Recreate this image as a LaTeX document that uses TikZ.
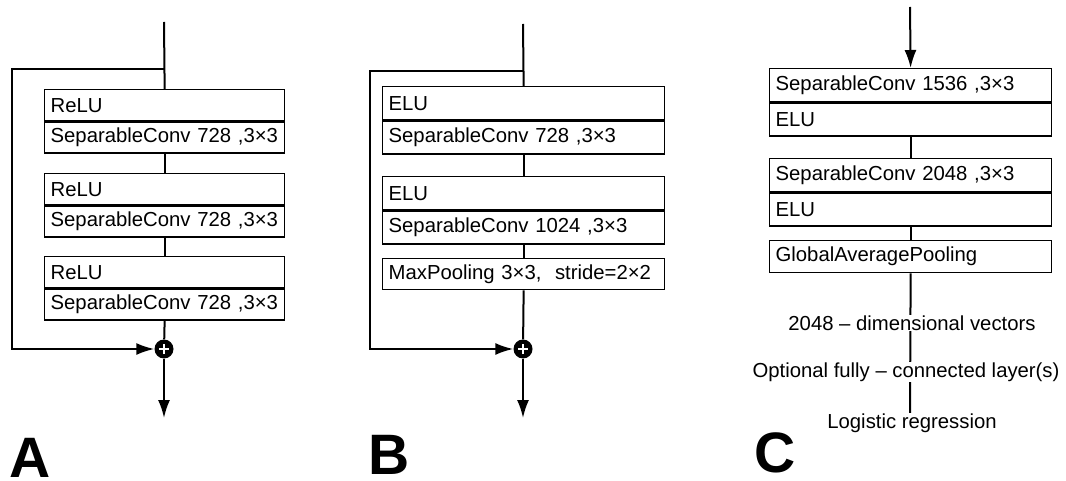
\documentclass[tikz,border=0pt]{standalone}
\usepackage{fontspec}
\setmainfont{Liberation Sans}
\usetikzlibrary{arrows.meta}
\begin{document}
\begin{tikzpicture}[x=1pt,y=-1pt,
  txt/.style={font=\fontsize{20.3}{22}\selectfont},
  cell/.style={txt, draw, line width=1.3pt, anchor=north west, inner xsep=6pt, inner ysep=0pt,
    align=left},
  cellA/.style={cell, text width=228pt, minimum height=31pt},
  cellB/.style={cell, text width=270pt, minimum height=33pt},
  conn/.style={line width=2pt},
  arr/.style={conn, -{Latex[length=18pt,width=12pt]}},
  plus/.style={circle, fill=black, minimum size=19pt, inner sep=0pt,
    path picture={\draw[white, line width=1.6pt]
      ([xshift=-5pt]path picture bounding box.center) -- ([xshift=5pt]path picture bounding box.center)
      ([yshift=-5pt]path picture bounding box.center) -- ([yshift=5pt]path picture bounding box.center);}},
  lbl/.style={txt, fill=white, inner sep=0.5pt},
  panel/.style={font=\fontsize{57}{60}\selectfont\bfseries, anchor=base west, inner sep=0pt}
]
\useasboundingbox (0,0) rectangle (1066,481);

% ---------- Panel A ----------
\node[cellA] (a1t) at (44,89) {ReLU};
\node[cellA] (a1b) at (a1t.south west) {SeparableConv 728 ,3×3};
\node[cellA] (a2t) at (44,173) {ReLU};
\node[cellA] (a2b) at (a2t.south west) {SeparableConv 728 ,3×3};
\node[cellA] (a3t) at (44,256) {ReLU};
\node[cellA] (a3b) at (a3t.south west) {SeparableConv 728 ,3×3};
\node[plus] (aplus) at (164,349) {};
\coordinate (ain) at (164,22);
\coordinate (abr) at (164,69);
\coordinate (aleft) at (12,69);
\coordinate (aout) at (164,418);
\draw[conn] (ain) -- (a1t.north);
\draw[conn] (a1b.south) -- (a2t.north);
\draw[conn] (a2b.south) -- (a3t.north);
\draw[conn] (a3b.south) -- (aplus);
\draw[arr] (abr) -- (aleft) |- (aplus);
\draw[arr] (aplus) -- (aout);
\node[panel] (la) at (9,477) {A};

% ---------- Panel B ----------
\node[cellB] (b1t) at (382,86) {ELU};
\node[cellB] (b1b) at (b1t.south west) {SeparableConv 728 ,3×3};
\node[cellB] (b2t) at (382,176) {ELU};
\node[cellB] (b2b) at (b2t.south west) {SeparableConv 1024 ,3×3};
\node[cellB, minimum height=31pt] (b3) at (382,258) {MaxPooling 3×3,\ \ stride=2×2};
\node[plus] (bplus) at (523,349) {};
\coordinate (bin) at (523,24);
\coordinate (bbr) at (523,71);
\coordinate (bleft) at (370,71);
\coordinate (bout) at (523,418);
\draw[conn] (bin) -- (b1t.north);
\draw[conn] (b1b.south) -- (b2t.north);
\draw[conn] (b2b.south) -- (b3.north);
\draw[conn] (b3.south) -- (bplus);
\draw[arr] (bbr) -- (bleft) |- (bplus);
\draw[arr] (bplus) -- (bout);
\node[panel] (lb) at (368,474) {B};

% ---------- Panel C ----------
\node[cellB] (c1t) at (769,68) {SeparableConv 1536 ,3×3};
\node[cellB] (c1b) at (c1t.south west) {ELU};
\node[cellB] (c2t) at (769,158) {SeparableConv 2048 ,3×3};
\node[cellB] (c2b) at (c2t.south west) {ELU};
\node[cellB, minimum height=32pt] (c3) at (769,240) {GlobalAveragePooling};
\coordinate (cin) at (910,7);
\coordinate (cend) at (910,413);
\draw[arr] (cin) -- (c1t.north);
\draw[conn] (c1b.south) -- (c2t.north);
\draw[conn] (c2b.south) -- (c3.north);
\draw[conn] (c3.south) -- (cend);
\node[lbl] (v1) at (912,323) {2048 – dimensional vectors};
\node[lbl] (v2) at (906,372) {Optional fully – connected layer(s)};
\node[lbl] (v3) at (912,423) {Logistic regression};
\node[panel] (lc) at (754,472) {C};
\end{tikzpicture}
\end{document}
